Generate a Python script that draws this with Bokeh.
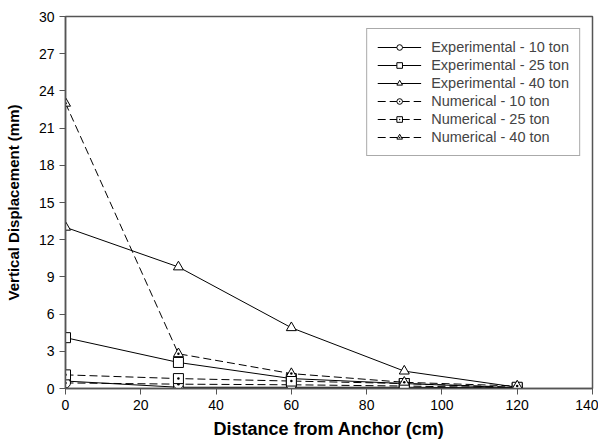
from bokeh.plotting import figure
from bokeh.models import Legend, LegendItem, Range1d, FixedTicker
from bokeh.embed import file_html
from bokeh.resources import INLINE

distance = [0, 30, 60, 90, 120]
exp_10 = [0.6, 0.1, 0.1, 0.1, 0.05]
exp_25 = [4.1, 2.1, 0.8, 0.4, 0.05]
exp_40 = [13.0, 9.8, 4.9, 1.4, 0.1]
num_10 = [0.45, 0.35, 0.3, 0.2, 0.05]
num_25 = [1.1, 0.8, 0.6, 0.4, 0.1]
num_40 = [23.0, 2.8, 1.2, 0.5, 0.2]

x_ticks = [0, 20, 40, 60, 80, 100, 120, 140]
y_ticks = [0, 3, 6, 9, 12, 15, 18, 21, 24, 27, 30]

series = [
    ("Experimental - 10 ton", exp_10, "solid", "circle"),
    ("Experimental - 25 ton", exp_25, "solid", "square"),
    ("Experimental - 40 ton", exp_40, "solid", "triangle"),
    ("Numerical - 10 ton", num_10, "dashed", "circle_dot"),
    ("Numerical - 25 ton", num_25, "dashed", "square_dot"),
    ("Numerical - 40 ton", num_40, "dashed", "triangle_dot"),
]

FONT = "Liberation Sans"
AX = "#555555"

p = figure(width=598, height=444, output_backend="svg", toolbar_location=None,
           x_range=Range1d(0, 140), y_range=Range1d(0, 30),
           min_border_left=65, min_border_top=16, min_border_right=6, min_border_bottom=56)
p.xgrid.visible = False
p.ygrid.visible = False
p.outline_line_color = AX
p.outline_line_width = 1.5

items = []
for label, ys, dash, marker in series:
    ld = "8 4" if dash == "dashed" else "solid"
    r1 = p.line(distance, ys, line_color="black", line_width=1, line_dash=ld)
    r2 = p.scatter(distance, ys, marker=marker, size=10, line_color="black",
                   fill_color="white", line_width=1)
    items.append(LegendItem(label=label, renderers=[r1, r2]))

legend = Legend(items=items, location="top_right")
legend.glyph_width = 44
legend.glyph_height = 14
legend.label_text_font = FONT
legend.label_text_font_size = "14.5px"
legend.label_height = 14
legend.spacing = 2
legend.border_line_color = AX
legend.border_line_width = 1.5
legend.padding = 10
legend.margin = 12
legend.label_standoff = 10
p.add_layout(legend, "center")

for ax in (p.xaxis, p.yaxis):
    ax.axis_line_color = AX
    ax.axis_line_width = 1.5
    ax.major_tick_line_color = AX
    ax.major_tick_out = 6
    ax.major_tick_in = 0
    ax.minor_tick_line_color = None
    ax.major_label_text_font = FONT
    ax.major_label_text_font_size = "14px"
    ax.major_label_text_color = "black"
    ax.axis_label_text_font = FONT
    ax.axis_label_text_font_style = "bold"
    ax.axis_label_text_color = "black"

p.xaxis.axis_label_text_font_size = "18px"
p.yaxis.axis_label_text_font_size = "15px"
p.xaxis.ticker = FixedTicker(ticks=x_ticks)
p.yaxis.ticker = FixedTicker(ticks=y_ticks)
p.xaxis.axis_label = "Distance from Anchor (cm)"
p.yaxis.axis_label = "Vertical Displacement (mm)"
p.xaxis.axis_label_standoff = 6
p.yaxis.axis_label_standoff = 14

open("out.html", "w").write(file_html(p, INLINE))
